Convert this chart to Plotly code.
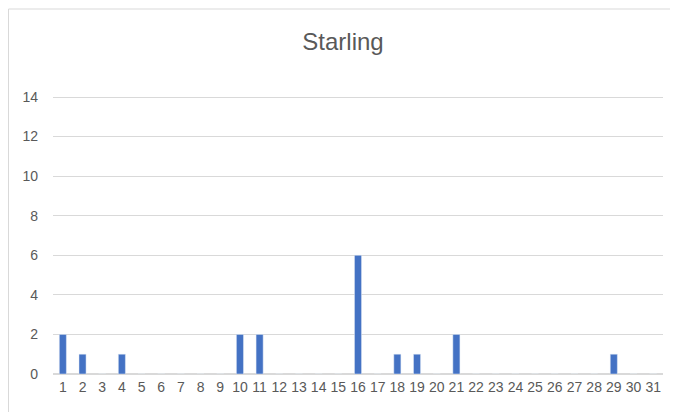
import plotly.graph_objects as go

days = [str(d) for d in range(1, 32)]
counts = [2, 1, 0, 1, 0, 0, 0, 0, 0, 2, 2, 0, 0, 0, 0, 6, 0, 1, 1, 0, 2, 0, 0, 0, 0, 0, 0, 0, 1, 0, 0]
y_ticks = [0, 2, 4, 6, 8, 10, 12, 14]

# page body has an 8px margin; compensate so the plot lands where the reference has it
OFF = 8
EXTRA = 6  # extra headroom above 14 so its gridline is drawn
W, H = 678 - OFF, 412 - OFF
L, R, T, B = 53 - OFF, 15, 97 - OFF - EXTRA, 38
pw, ph = W - L - R, H - T - B
ytop = 14 * ph / (ph - EXTRA)

FONT = "Liberation Sans Narrow, Arial Narrow, Liberation Sans, sans-serif"

fig = go.Figure(go.Bar(x=days, y=counts, marker_color="#4472C4", width=0.36))

fig.update_layout(
    width=W, height=H,
    margin=dict(l=L, r=R, t=T, b=B),
    paper_bgcolor="white", plot_bgcolor="white",
    title=dict(text="Starling", x=0.5, xanchor="center", y=1 - (42 - OFF) / H, yanchor="middle",
               font=dict(family=FONT, size=24, color="#595959")),
    font=dict(family=FONT, size=14, color="#595959"),
    showlegend=False,
    xaxis=dict(type="category", showgrid=False, showline=False, ticks="", tickfont=dict(size=14),
               ticklabelstandoff=3),
    yaxis=dict(range=[0, ytop], tickvals=y_ticks, showgrid=True, gridcolor="#d9d9d9", gridwidth=1,
               zeroline=True, zerolinecolor="#d9d9d9", showline=False, ticks="", ticklabelstandoff=14,
               tickfont=dict(size=14)),
    shapes=[dict(type="rect", xref="paper", yref="paper",
                 x0=(0.5 - L) / pw, x1=(W + 5 - L) / pw,
                 y0=-(B + 5) / ph, y1=(ph + T - 1) / ph,
                 line=dict(color="#d9d9d9", width=1), layer="below")],
)

fig.write_html("out.html")
